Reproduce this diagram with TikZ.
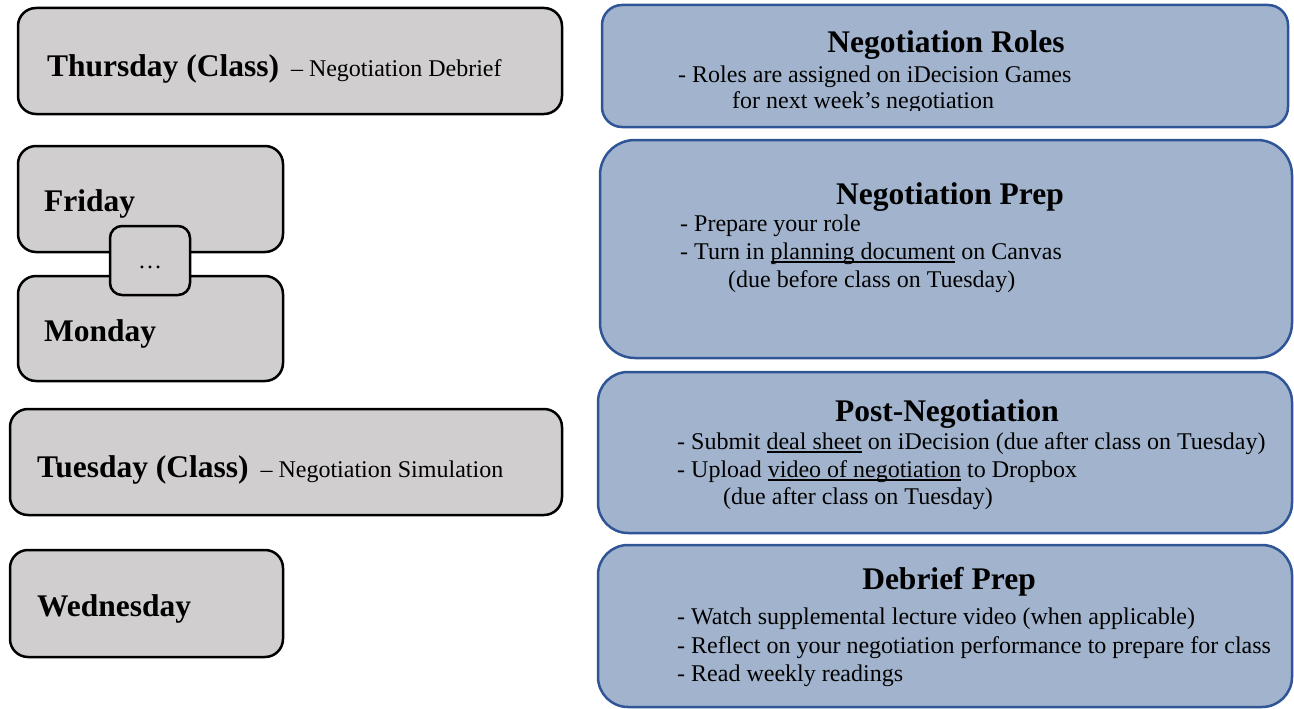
\documentclass[tikz,border=0pt]{standalone}
\usepackage{fontspec}
\setmainfont{Liberation Serif}
\definecolor{grayfill}{HTML}{D0CECE}
\definecolor{bluefill}{HTML}{A2B4CD}
\definecolor{blueline}{HTML}{2F5597}
\newcommand{\bigb}{\bfseries\fontsize{31.5pt}{36pt}\selectfont}
\newcommand{\regtxt}{\mdseries\fontsize{24pt}{28pt}\selectfont}
\newcommand{\undl}[1]{\setbox0\hbox{#1}\rlap{\rule[-3.5pt]{\wd0}{1.6pt}}\copy0\relax}
\begin{document}
\begin{tikzpicture}[x=1pt,y=-1pt,
  daybox/.style={draw=black, line width=2.5pt, fill=grayfill, rounded corners=18pt, inner sep=0pt},
  taskbox/.style={draw=blueline, line width=2.5pt, fill=bluefill, inner sep=0pt},
  lbl/.style={anchor=base west, inner sep=0pt, font=\bigb},
  head/.style={anchor=base, inner sep=0pt, font=\bigb},
  item/.style={anchor=base west, inner sep=0pt, font=\regtxt}]
\useasboundingbox (0,0) rectangle (1294,709);

% left column: days
\node[daybox, minimum width=544pt, minimum height=106pt] (thu) at (290,61) {};
\node[lbl] (thut) at (47,77) {Thursday (Class)\hspace{4pt} {\regtxt – Negotiation Debrief}};

\node[daybox, minimum width=265pt, minimum height=106pt] (fri) at (150.5,199) {};
\node[lbl] (frit) at (44,211) {Friday};

\node[daybox, minimum width=265pt, minimum height=105pt] (mon) at (150.5,328.5) {};
\node[lbl] (mont) at (44,341) {Monday};

\node[daybox, rounded corners=12pt, minimum width=80pt, minimum height=69pt] (dots) at (150,260.5) {};
\node[item, anchor=base] (dotst) at (150,268) {…};

\node[daybox, minimum width=552pt, minimum height=106pt] (tue) at (286,462) {};
\node[lbl] (tuet) at (37,477) {Tuesday (Class)\hspace{4pt} {\regtxt – Negotiation Simulation}};

\node[daybox, minimum width=273pt, minimum height=107pt] (wed) at (146.5,603.5) {};
\node[lbl] (wedt) at (37,616) {Wednesday};

% right column: tasks
\node[taskbox, rounded corners=20pt, minimum width=686pt, minimum height=122pt] (roles) at (945,66) {};
\node[head] (rolesh) at (946,53) {Negotiation Roles};
\node[item] (roles1) at (678,83) {- Roles are assigned on iDecision Games};
\begin{scope}
  \clip (602,0) rectangle (1288,110);
  \node[item] (roles2) at (732,109) {for next week’s negotiation};
\end{scope}

\node[taskbox, rounded corners=35pt, minimum width=692pt, minimum height=218pt] (prep) at (946,249) {};
\node[head] (preph) at (950,204) {Negotiation Prep};
\node[item] (prep1) at (680,231) {- Prepare your role};
\node[item] (prep2) at (680,259) {- Turn in \undl{planning document} on Canvas};
\node[item] (prep3) at (728,287) {(due before class on Tuesday)};

\node[taskbox, rounded corners=30pt, minimum width=694pt, minimum height=161pt] (post) at (945,452.5) {};
\node[head] (posth) at (947,421) {Post-Negotiation};
\node[item] (post1) at (677,449) {- Submit \undl{deal sheet} on iDecision (due after class on Tuesday)};
\node[item] (post2) at (677,477) {- Upload \undl{video of negotiation} to Dropbox};
\node[item] (post3) at (723,504) {(due after class on Tuesday)};

\node[taskbox, rounded corners=30pt, minimum width=694pt, minimum height=162pt] (debr) at (945,626) {};
\node[head] (debrh) at (949,589) {Debrief Prep};
\node[item] (debr1) at (677,624) {- Watch supplemental lecture video (when applicable)};
\node[item] (debr2) at (677,653) {- Reflect on your negotiation performance to prepare for class};
\node[item] (debr3) at (677,681) {- Read weekly readings};
\end{tikzpicture}
\end{document}
